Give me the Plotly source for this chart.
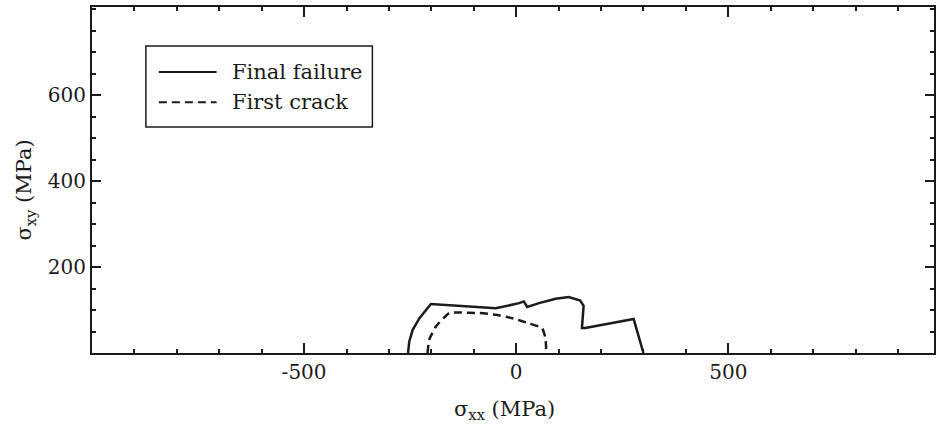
import plotly.graph_objects as go

# Failure envelope (final failure) in the sigma_xx / sigma_xy plane, MPa
final_sxx = [-255, -252, -244, -228, -201, -48, 7, 18, 26, 54, 93, 124, 151, 159, 155, 163, 277, 300]
final_sxy = [0, 27, 54, 81, 114, 104, 116, 120, 107, 116, 126, 130, 122, 110, 58, 58, 79, 0]

# First-crack envelope, MPa
crack_sxx = [-209, -205, -189, -158, -134, -87, -48, -9, 30, 61, 69, 71]
crack_sxy = [0, 31, 62, 93, 94, 93, 89, 81, 69, 58, 35, 0]

legend_labels = ["Final failure", "First crack"]
x_tick_vals = [-500, 0, 500]
x_tick_text = ["-500", "0", "500"]
y_tick_vals = [200, 400, 600]

ink = "#1b1b1b"
serif = "DejaVu Serif"

fig = go.Figure()
fig.add_trace(go.Scatter(x=final_sxx, y=final_sxy, mode="lines",
                         line=dict(color=ink, width=2.5), name=legend_labels[0],
                         showlegend=False))
fig.add_trace(go.Scatter(x=crack_sxx, y=crack_sxy, mode="lines",
                         line=dict(color=ink, width=2.5, dash="8px,5px", shape="spline", smoothing=0.4),
                         name=legend_labels[1], showlegend=False))

axis_common = dict(showline=True, linecolor=ink, linewidth=2, mirror="allticks",
                   ticks="inside", tickcolor=ink, tickwidth=1.5,
                   showgrid=False, zeroline=False,
                   tickfont=dict(family=serif, size=20, color=ink))

fig.update_xaxes(range=[-1000, 985], tickmode="array", tickvals=x_tick_vals, ticktext=x_tick_text,
                 ticklen=10,
                 minor=dict(tickmode="linear", tick0=0, dtick=100, ticks="inside", ticklen=4,
                            tickcolor=ink, tickwidth=1.5),
                 **axis_common)
fig.update_yaxes(range=[0, 805], tickmode="array", tickvals=y_tick_vals,
                 ticklen=9,
                 minor=dict(tickmode="linear", tick0=0, dtick=50, ticks="inside", ticklen=4,
                            tickcolor=ink, tickwidth=1.5),
                 **axis_common)

# Hand-drawn legend box in paper coordinates
shapes = [
    dict(type="rect", xref="paper", yref="paper", x0=0.064, x1=0.333, y0=0.653, y1=0.887,
         line=dict(color=ink, width=1.5), fillcolor="white", layer="above"),
    dict(type="line", xref="paper", yref="paper", x0=0.0794, x1=0.148, y0=0.812, y1=0.812,
         line=dict(color=ink, width=2)),
    dict(type="line", xref="paper", yref="paper", x0=0.0794, x1=0.148, y0=0.725, y1=0.725,
         line=dict(color=ink, width=2, dash="8px,5px")),
]

annotations = [
    dict(text=legend_labels[0], xref="paper", yref="paper", x=0.1635, y=0.812,
         xanchor="left", yanchor="middle", showarrow=False,
         font=dict(family=serif, size=21, color=ink)),
    dict(text=legend_labels[1], xref="paper", yref="paper", x=0.1635, y=0.725,
         xanchor="left", yanchor="middle", showarrow=False,
         font=dict(family=serif, size=21, color=ink)),
    dict(text="σ<sub>xx</sub> (MPa)", xref="paper", yref="paper", x=0.49, y=-0.165,
         xanchor="center", yanchor="middle", showarrow=False,
         font=dict(family=serif, size=21, color=ink)),
    dict(text="σ<sub>xy</sub> (MPa)", xref="paper", yref="paper", x=-0.079, y=0.471,
         xanchor="center", yanchor="middle", showarrow=False, textangle=-90,
         font=dict(family=serif, size=21, color=ink)),
]

fig.update_layout(width=937, height=425, margin=dict(l=92, r=1, t=7, b=72),
                  paper_bgcolor="white", plot_bgcolor="white",
                  font=dict(family=serif, color=ink),
                  shapes=shapes, annotations=annotations, showlegend=False)

fig.write_html("out.html")
